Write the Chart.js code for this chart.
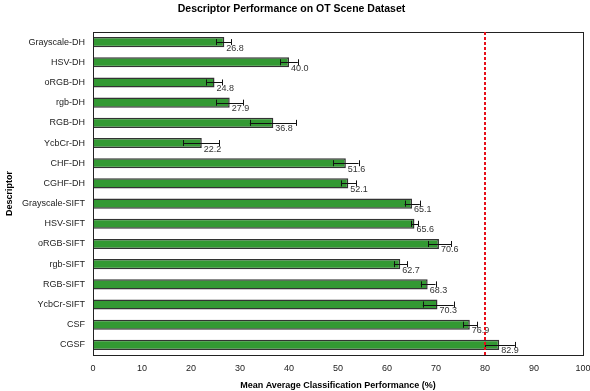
<!DOCTYPE html>
<html>
<head>
<meta charset="utf-8">
<script src="https://cdn.jsdelivr.net/npm/chart.js@4/dist/chart.umd.min.js"></script>
<style>
  html, body { margin: 0; padding: 0; background: #fff; }
  #wrap { width: 590px; height: 391px; }
</style>
</head>
<body>
<div id="wrap"><canvas id="perfChart"></canvas></div>
<script>
var descriptors = ["Grayscale-DH", "HSV-DH", "oRGB-DH", "rgb-DH", "RGB-DH", "YcbCr-DH", "CHF-DH", "CGHF-DH",
  "Grayscale-SIFT", "HSV-SIFT", "oRGB-SIFT", "rgb-SIFT", "RGB-SIFT", "YcbCr-SIFT", "CSF", "CGSF"];
var performance = [26.8, 40.0, 24.8, 27.9, 36.8, 22.2, 51.6, 52.1, 65.1, 65.6, 70.6, 62.7, 68.3, 70.3, 76.9, 82.9];
var errLow = [25.2, 38.2, 23.1, 25.2, 32.0, 18.4, 49.0, 50.6, 63.6, 64.9, 68.4, 61.4, 66.9, 67.3, 75.6, 80.0];
var errHigh = [28.2, 41.8, 26.4, 30.7, 41.5, 25.8, 54.2, 53.7, 66.7, 66.4, 73.1, 64.1, 69.9, 73.6, 78.4, 86.1];
var xTicks = [0, 10, 20, 30, 40, 50, 60, 70, 80, 90, 100];
var thresholdLine = 80;

var FONT = "'Liberation Sans', Arial, sans-serif";

// error bars, value labels, frame and the red threshold line
var extrasPlugin = {
  id: "extras",
  afterDatasetsDraw: function (chart) {
    var ctx = chart.ctx;
    var xs = chart.scales.x;
    var ys = chart.scales.y;
    var area = chart.chartArea;
    ctx.save();

    for (var i = 0; i < performance.length; i++) {
      var yc = ys.getPixelForValue(i);
      var x1 = xs.getPixelForValue(errLow[i]);
      var x2 = xs.getPixelForValue(errHigh[i]);
      ctx.strokeStyle = "#111";
      ctx.lineWidth = 1;
      ctx.beginPath();
      ctx.moveTo(x1, Math.round(yc) + 0.5);
      ctx.lineTo(x2, Math.round(yc) + 0.5);
      ctx.moveTo(Math.round(x1) + 0.5, yc - 3);
      ctx.lineTo(Math.round(x1) + 0.5, yc + 3);
      ctx.moveTo(Math.round(x2) + 0.5, yc - 3);
      ctx.lineTo(Math.round(x2) + 0.5, yc + 3);
      ctx.stroke();

      ctx.fillStyle = "#333";
      ctx.font = "9px " + FONT;
      ctx.textAlign = "left";
      ctx.textBaseline = "middle";
      ctx.fillText(performance[i].toFixed(1), xs.getPixelForValue(performance[i]) + 2, yc + 6);
    }

    ctx.strokeStyle = "#222";
    ctx.lineWidth = 1;
    ctx.strokeRect(Math.round(area.left) + 0.5, Math.round(area.top) + 0.5,
      Math.round(area.right - area.left), Math.round(area.bottom - area.top));

    var xr = xs.getPixelForValue(thresholdLine);
    ctx.strokeStyle = "#e8101a";
    ctx.lineWidth = 2;
    ctx.setLineDash([3, 2]);
    ctx.beginPath();
    ctx.moveTo(xr, area.top);
    ctx.lineTo(xr, area.bottom);
    ctx.stroke();
    ctx.restore();
  }
};

var ctx = document.getElementById("perfChart").getContext("2d");

new Chart(ctx, {
  type: "bar",
  data: {
    labels: descriptors,
    datasets: [
      {
        data: performance,
        backgroundColor: "#339933",
        borderColor: "#333",
        borderWidth: 1.5,
        categoryPercentage: 1,
        barPercentage: 0.5
      }
    ]
  },
  options: {
    indexAxis: "y",
    responsive: true,
    maintainAspectRatio: false,
    animation: false,
    layout: { padding: { left: 0, right: 7, top: 0, bottom: 0 } },
    plugins: {
      legend: { display: false },
      tooltip: { enabled: false },
      title: {
        display: true,
        text: "Descriptor Performance on OT Scene Dataset",
        color: "#000",
        font: { family: FONT, size: 10.5, weight: "bold" },
        padding: { top: 3, bottom: 16.4 }
      }
    },
    scales: {
      x: {
        min: 0,
        max: 100,
        afterBuildTicks: function (scale) {
          scale.ticks = xTicks.map(function (v) { return { value: v }; });
        },
        afterFit: function (scale) {
          scale.height = 36;
          scale.paddingLeft = 0;
          scale.paddingRight = 0;
        },
        grid: { display: false, drawTicks: true, tickLength: 4, tickColor: "#222" },
        border: { display: true, color: "#222" },
        ticks: {
          color: "#222",
          padding: 4,
          maxRotation: 0,
          font: { family: FONT, size: 9 }
        },
        title: {
          display: true,
          text: "Mean Average Classification Performance (%)",
          color: "#000",
          padding: { top: 6, bottom: 0 },
          font: { family: FONT, size: 9, weight: "bold" }
        }
      },
      y: {
        afterFit: function (scale) { scale.width = 93; },
        grid: { display: false, drawTicks: false },
        border: { display: true, color: "#222" },
        ticks: {
          color: "#222",
          padding: 8,
          font: { family: FONT, size: 9 }
        },
        title: {
          display: true,
          text: "Descriptor",
          color: "#000",
          padding: { top: 4, bottom: 0 },
          font: { family: FONT, size: 9, weight: "bold" }
        }
      }
    }
  },
  plugins: [extrasPlugin]
});
</script>
</body>
</html>
